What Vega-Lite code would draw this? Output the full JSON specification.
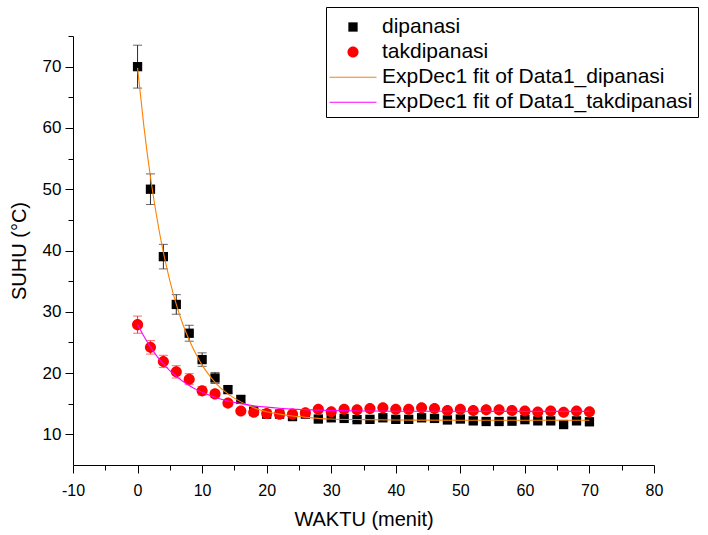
{
  "$schema": "https://vega.github.io/schema/vega-lite/v6.json",
  "autosize": {"type": "none"},
  "padding": {"left": 73, "top": 36, "right": 54, "bottom": 70},
  "width": 581,
  "height": 429,
  "background": "white",
  "config": {
    "view": {"stroke": null},
    "font": "Liberation Sans",
    "axis": {
      "grid": false,
      "domainColor": "#000000",
      "tickColor": "#000000",
      "labelColor": "#000000",
      "titleColor": "#000000",
      "labelFont": "Liberation Sans",
      "titleFont": "Liberation Sans",
      "titleFontWeight": "normal",
      "labelFontSize": 16,
      "titleFontSize": 20
    },
    "legend": {
      "orient": "none",
      "legendX": 253,
      "legendY": -29,
      "strokeColor": "#000000",
      "fillColor": "white",
      "padding": 5,
      "symbolSize": 900,
      "symbolOffset": 7,
      "symbolStrokeWidth": 0,
      "labelFont": "Liberation Sans",
      "labelFontSize": 21,
      "labelColor": "#000000",
      "labelOffset": 14,
      "labelLimit": 400,
      "rowPadding": 0
    }
  },
  "datasets": {
    "pts": [
      {"series": "dipanasi", "x": 0, "y": 70, "err": 3.5},
      {"series": "dipanasi", "x": 2, "y": 50, "err": 2.5},
      {"series": "dipanasi", "x": 4, "y": 39, "err": 2.0},
      {"series": "dipanasi", "x": 6, "y": 31.2, "err": 1.6},
      {"series": "dipanasi", "x": 8, "y": 26.5, "err": 1.3},
      {"series": "dipanasi", "x": 10, "y": 22.2, "err": 1.1},
      {"series": "dipanasi", "x": 12, "y": 19.2, "err": 0.9},
      {"series": "dipanasi", "x": 14, "y": 17.3, "err": 0.6},
      {"series": "dipanasi", "x": 16, "y": 15.7, "err": 0.5},
      {"series": "dipanasi", "x": 18, "y": 13.8, "err": 0.4},
      {"series": "dipanasi", "x": 20, "y": 13.3, "err": 0.3},
      {"series": "dipanasi", "x": 22, "y": 13.3, "err": 0.3},
      {"series": "dipanasi", "x": 24, "y": 12.9, "err": 0.3},
      {"series": "dipanasi", "x": 26, "y": 13.3, "err": 0.3},
      {"series": "dipanasi", "x": 28, "y": 12.5, "err": 0.3},
      {"series": "dipanasi", "x": 30, "y": 12.7, "err": 0.3},
      {"series": "dipanasi", "x": 32, "y": 12.6, "err": 0.3},
      {"series": "dipanasi", "x": 34, "y": 12.4, "err": 0.3},
      {"series": "dipanasi", "x": 36, "y": 12.45, "err": 0.3},
      {"series": "dipanasi", "x": 38, "y": 12.7, "err": 0.3},
      {"series": "dipanasi", "x": 40, "y": 12.45, "err": 0.3},
      {"series": "dipanasi", "x": 42, "y": 12.45, "err": 0.3},
      {"series": "dipanasi", "x": 44, "y": 12.7, "err": 0.3},
      {"series": "dipanasi", "x": 46, "y": 12.6, "err": 0.3},
      {"series": "dipanasi", "x": 48, "y": 12.35, "err": 0.3},
      {"series": "dipanasi", "x": 50, "y": 12.5, "err": 0.3},
      {"series": "dipanasi", "x": 52, "y": 12.2, "err": 0.3},
      {"series": "dipanasi", "x": 54, "y": 12.1, "err": 0.3},
      {"series": "dipanasi", "x": 56, "y": 12.1, "err": 0.3},
      {"series": "dipanasi", "x": 58, "y": 12.15, "err": 0.3},
      {"series": "dipanasi", "x": 60, "y": 12.4, "err": 0.3},
      {"series": "dipanasi", "x": 62, "y": 12.2, "err": 0.3},
      {"series": "dipanasi", "x": 64, "y": 12.2, "err": 0.3},
      {"series": "dipanasi", "x": 66, "y": 11.6, "err": 0.3},
      {"series": "dipanasi", "x": 68, "y": 12.2, "err": 0.3},
      {"series": "dipanasi", "x": 70, "y": 12.05, "err": 0.3},
      {"series": "takdipanasi", "x": 0, "y": 27.9, "err": 1.4},
      {"series": "takdipanasi", "x": 2, "y": 24.2, "err": 1.1},
      {"series": "takdipanasi", "x": 4, "y": 21.9, "err": 1.0},
      {"series": "takdipanasi", "x": 6, "y": 20.2, "err": 1.0},
      {"series": "takdipanasi", "x": 8, "y": 19.0, "err": 0.9},
      {"series": "takdipanasi", "x": 10, "y": 17.1, "err": 0.7},
      {"series": "takdipanasi", "x": 12, "y": 16.6, "err": 0.6},
      {"series": "takdipanasi", "x": 14, "y": 15.1, "err": 0.5},
      {"series": "takdipanasi", "x": 16, "y": 13.8, "err": 0.4},
      {"series": "takdipanasi", "x": 18, "y": 13.6, "err": 0.3},
      {"series": "takdipanasi", "x": 20, "y": 13.4, "err": 0.3},
      {"series": "takdipanasi", "x": 22, "y": 13.3, "err": 0.3},
      {"series": "takdipanasi", "x": 24, "y": 13.3, "err": 0.3},
      {"series": "takdipanasi", "x": 26, "y": 13.5, "err": 0.3},
      {"series": "takdipanasi", "x": 28, "y": 14.1, "err": 0.3},
      {"series": "takdipanasi", "x": 30, "y": 13.7, "err": 0.3},
      {"series": "takdipanasi", "x": 32, "y": 14.1, "err": 0.3},
      {"series": "takdipanasi", "x": 34, "y": 14.0, "err": 0.3},
      {"series": "takdipanasi", "x": 36, "y": 14.2, "err": 0.3},
      {"series": "takdipanasi", "x": 38, "y": 14.35, "err": 0.3},
      {"series": "takdipanasi", "x": 40, "y": 14.1, "err": 0.3},
      {"series": "takdipanasi", "x": 42, "y": 14.1, "err": 0.3},
      {"series": "takdipanasi", "x": 44, "y": 14.35, "err": 0.3},
      {"series": "takdipanasi", "x": 46, "y": 14.2, "err": 0.3},
      {"series": "takdipanasi", "x": 48, "y": 13.9, "err": 0.3},
      {"series": "takdipanasi", "x": 50, "y": 14.1, "err": 0.3},
      {"series": "takdipanasi", "x": 52, "y": 13.9, "err": 0.3},
      {"series": "takdipanasi", "x": 54, "y": 14.0, "err": 0.3},
      {"series": "takdipanasi", "x": 56, "y": 14.0, "err": 0.3},
      {"series": "takdipanasi", "x": 58, "y": 13.9, "err": 0.3},
      {"series": "takdipanasi", "x": 60, "y": 13.8, "err": 0.3},
      {"series": "takdipanasi", "x": 62, "y": 13.65, "err": 0.3},
      {"series": "takdipanasi", "x": 64, "y": 13.8, "err": 0.3},
      {"series": "takdipanasi", "x": 66, "y": 13.6, "err": 0.3},
      {"series": "takdipanasi", "x": 68, "y": 13.8, "err": 0.3},
      {"series": "takdipanasi", "x": 70, "y": 13.7, "err": 0.3}
    ],
    "fits": [
      {"series": "ExpDec1 fit of Data1_dipanasi", "x": 0, "y": 69.8},
      {"series": "ExpDec1 fit of Data1_dipanasi", "x": 1, "y": 60.1},
      {"series": "ExpDec1 fit of Data1_dipanasi", "x": 2, "y": 52.0},
      {"series": "ExpDec1 fit of Data1_dipanasi", "x": 3, "y": 45.3},
      {"series": "ExpDec1 fit of Data1_dipanasi", "x": 4, "y": 39.7},
      {"series": "ExpDec1 fit of Data1_dipanasi", "x": 5, "y": 35.1},
      {"series": "ExpDec1 fit of Data1_dipanasi", "x": 6, "y": 31.2},
      {"series": "ExpDec1 fit of Data1_dipanasi", "x": 7, "y": 28.0},
      {"series": "ExpDec1 fit of Data1_dipanasi", "x": 8, "y": 25.4},
      {"series": "ExpDec1 fit of Data1_dipanasi", "x": 9, "y": 23.2},
      {"series": "ExpDec1 fit of Data1_dipanasi", "x": 10, "y": 21.3},
      {"series": "ExpDec1 fit of Data1_dipanasi", "x": 11, "y": 19.8},
      {"series": "ExpDec1 fit of Data1_dipanasi", "x": 12, "y": 18.5},
      {"series": "ExpDec1 fit of Data1_dipanasi", "x": 14, "y": 16.6},
      {"series": "ExpDec1 fit of Data1_dipanasi", "x": 16, "y": 15.3},
      {"series": "ExpDec1 fit of Data1_dipanasi", "x": 18, "y": 14.35},
      {"series": "ExpDec1 fit of Data1_dipanasi", "x": 20, "y": 13.7},
      {"series": "ExpDec1 fit of Data1_dipanasi", "x": 22, "y": 13.3},
      {"series": "ExpDec1 fit of Data1_dipanasi", "x": 24, "y": 13.0},
      {"series": "ExpDec1 fit of Data1_dipanasi", "x": 26, "y": 12.8},
      {"series": "ExpDec1 fit of Data1_dipanasi", "x": 28, "y": 12.6},
      {"series": "ExpDec1 fit of Data1_dipanasi", "x": 30, "y": 12.5},
      {"series": "ExpDec1 fit of Data1_dipanasi", "x": 35, "y": 12.4},
      {"series": "ExpDec1 fit of Data1_dipanasi", "x": 40, "y": 12.35},
      {"series": "ExpDec1 fit of Data1_dipanasi", "x": 50, "y": 12.3},
      {"series": "ExpDec1 fit of Data1_dipanasi", "x": 60, "y": 12.3},
      {"series": "ExpDec1 fit of Data1_dipanasi", "x": 70, "y": 12.3},
      {"series": "ExpDec1 fit of Data1_takdipanasi", "x": 0, "y": 27.95},
      {"series": "ExpDec1 fit of Data1_takdipanasi", "x": 1, "y": 25.96},
      {"series": "ExpDec1 fit of Data1_takdipanasi", "x": 2, "y": 24.24},
      {"series": "ExpDec1 fit of Data1_takdipanasi", "x": 3, "y": 22.77},
      {"series": "ExpDec1 fit of Data1_takdipanasi", "x": 4, "y": 21.5},
      {"series": "ExpDec1 fit of Data1_takdipanasi", "x": 5, "y": 20.41},
      {"series": "ExpDec1 fit of Data1_takdipanasi", "x": 6, "y": 19.47},
      {"series": "ExpDec1 fit of Data1_takdipanasi", "x": 7, "y": 18.67},
      {"series": "ExpDec1 fit of Data1_takdipanasi", "x": 8, "y": 17.98},
      {"series": "ExpDec1 fit of Data1_takdipanasi", "x": 9, "y": 17.38},
      {"series": "ExpDec1 fit of Data1_takdipanasi", "x": 10, "y": 16.87},
      {"series": "ExpDec1 fit of Data1_takdipanasi", "x": 12, "y": 16.06},
      {"series": "ExpDec1 fit of Data1_takdipanasi", "x": 14, "y": 15.45},
      {"series": "ExpDec1 fit of Data1_takdipanasi", "x": 16, "y": 15.01},
      {"series": "ExpDec1 fit of Data1_takdipanasi", "x": 18, "y": 14.68},
      {"series": "ExpDec1 fit of Data1_takdipanasi", "x": 20, "y": 14.44},
      {"series": "ExpDec1 fit of Data1_takdipanasi", "x": 22, "y": 14.26},
      {"series": "ExpDec1 fit of Data1_takdipanasi", "x": 24, "y": 14.12},
      {"series": "ExpDec1 fit of Data1_takdipanasi", "x": 26, "y": 14.03},
      {"series": "ExpDec1 fit of Data1_takdipanasi", "x": 28, "y": 13.95},
      {"series": "ExpDec1 fit of Data1_takdipanasi", "x": 30, "y": 13.9},
      {"series": "ExpDec1 fit of Data1_takdipanasi", "x": 35, "y": 13.82},
      {"series": "ExpDec1 fit of Data1_takdipanasi", "x": 40, "y": 13.78},
      {"series": "ExpDec1 fit of Data1_takdipanasi", "x": 50, "y": 13.76},
      {"series": "ExpDec1 fit of Data1_takdipanasi", "x": 60, "y": 13.75},
      {"series": "ExpDec1 fit of Data1_takdipanasi", "x": 70, "y": 13.75}
    ]
  },
  "encoding": {
    "x": {
      "field": "x", "type": "quantitative",
      "scale": {"domain": [-10, 80], "nice": false, "zero": false},
      "axis": {
        "title": "WAKTU (menit)",
        "values": [-10, -5, 0, 5, 10, 15, 20, 25, 30, 35, 40, 45, 50, 55, 60, 65, 70, 75, 80],
        "labelExpr": "datum.value % 10 === 0 ? '' + datum.value : ''",
        "tickSize": {"condition": {"test": "datum.value % 10 === 0", "value": 8}, "value": 5},
        "labelPadding": 9,
        "titlePadding": 11,
        "labelFlush": false,
        "labelOverlap": false
      }
    },
    "y": {
      "field": "y", "type": "quantitative",
      "scale": {"domain": [5, 75], "nice": false, "zero": false},
      "axis": {
        "title": "SUHU (°C)",
        "values": [10, 15, 20, 25, 30, 35, 40, 45, 50, 55, 60, 65, 70, 75],
        "labelExpr": "datum.value % 10 === 0 ? '' + datum.value : ''",
        "tickSize": {"condition": {"test": "datum.value % 10 === 0", "value": 8}, "value": 5},
        "labelPadding": 4,
        "titlePadding": 13,
        "labelFontSize": 17,
        "labelOverlap": false
      }
    }
  },
  "layer": [
    {
      "data": {"name": "pts"},
      "transform": [{"filter": "datum.series === 'dipanasi'"}],
      "mark": {"type": "errorbar", "color": "#2a2a2a", "ticks": {"size": 9}},
      "encoding": {
        "y": {"field": "y", "type": "quantitative"},
        "yError": {"field": "err"}
      }
    },
    {
      "data": {"name": "pts"},
      "transform": [{"filter": "datum.series === 'takdipanasi'"}],
      "mark": {"type": "errorbar", "color": "#ff2a2a", "ticks": {"size": 9}},
      "encoding": {
        "y": {"field": "y", "type": "quantitative"},
        "yError": {"field": "err"}
      }
    },
    {
      "data": {"name": "pts"},
      "mark": {"type": "point", "filled": true, "size": 900, "opacity": 1, "strokeWidth": 0},
      "encoding": {
        "color": {
          "field": "series", "type": "nominal", "title": null,
          "scale": {
            "domain": ["dipanasi", "takdipanasi", "ExpDec1 fit of Data1_dipanasi", "ExpDec1 fit of Data1_takdipanasi"],
            "range": ["#000000", "#ff0000", "#ff8000", "#ff00ff"]
          }
        },
        "shape": {
          "field": "series", "type": "nominal", "title": null,
          "scale": {
            "domain": ["dipanasi", "takdipanasi", "ExpDec1 fit of Data1_dipanasi", "ExpDec1 fit of Data1_takdipanasi"],
            "range": [
              "M-0.31,-0.31H0.31V0.31H-0.31Z",
              "M-0.37,0A0.37,0.37,0,1,0,0.37,0A0.37,0.37,0,1,0,-0.37,0Z",
              "M-1.567,-0.015H1.567V0.055H-1.567Z",
              "M-1.567,-0.015H1.567V0.055H-1.567Z"
            ]
          }
        }
      }
    },
    {
      "data": {"name": "fits"},
      "mark": {"type": "line", "strokeWidth": 1.1, "interpolate": "monotone"},
      "encoding": {
        "stroke": {
          "field": "series", "type": "nominal", "legend": null,
          "scale": {
            "domain": ["ExpDec1 fit of Data1_dipanasi", "ExpDec1 fit of Data1_takdipanasi"],
            "range": ["#ff8000", "#ff00ff"]
          }
        }
      }
    }
  ]
}
